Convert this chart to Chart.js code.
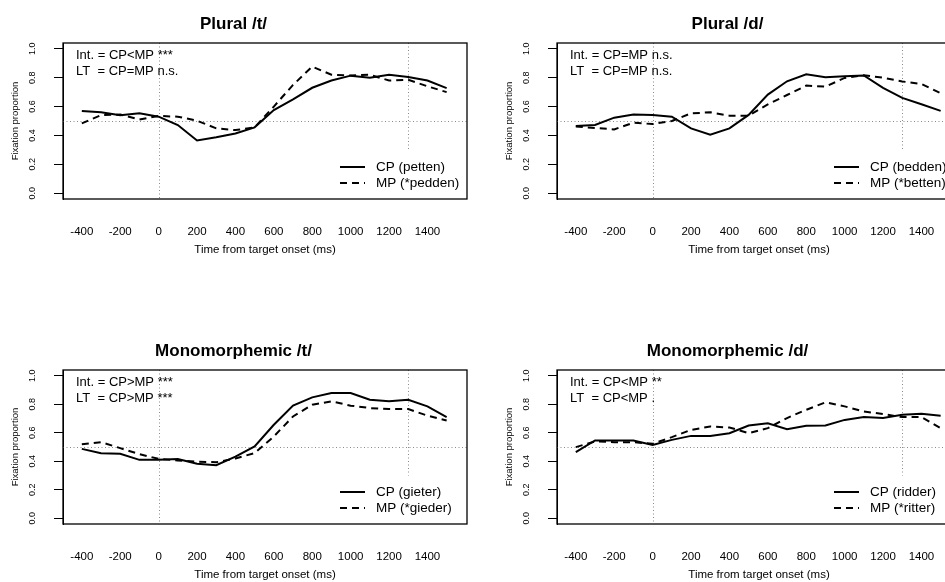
<!DOCTYPE html>
<html><head><meta charset="utf-8">
<script src="https://cdn.jsdelivr.net/npm/chart.js@4/dist/chart.umd.min.js"></script>
<style>
html,body{margin:0;padding:0;background:#fff;overflow:hidden;width:945px;height:582px;position:relative}
canvas{position:absolute}
</style></head><body>
<canvas id="p1" width="472" height="261" style="left:0px;top:0px"></canvas>
<canvas id="p2" width="472" height="261" style="left:494px;top:0px"></canvas>
<canvas id="p3" width="472" height="259" style="left:0px;top:327px"></canvas>
<canvas id="p4" width="472" height="259" style="left:494px;top:327px"></canvas>
<script>
// ---- data ----
const times = [-400,-300,-200,-100,0,100,200,300,400,500,600,700,800,900,1000,1100,1200,1300,1400,1500];
const xTickLabels = [-400,-200,0,200,400,600,800,1000,1200,1400];
const yTickLabels = [0,0.2,0.4,0.6,0.8,1.0];

const pluralT_CP = [0.57,0.56,0.54,0.553,0.53,0.472,0.365,0.387,0.414,0.456,0.576,0.65,0.73,0.78,0.814,0.80,0.82,0.805,0.78,0.728];
const pluralT_MP = [0.484,0.54,0.545,0.51,0.535,0.53,0.502,0.449,0.437,0.456,0.60,0.75,0.877,0.82,0.815,0.82,0.78,0.785,0.74,0.70];

const pluralD_CP = [0.465,0.472,0.523,0.545,0.542,0.53,0.449,0.406,0.449,0.542,0.683,0.775,0.824,0.803,0.81,0.815,0.73,0.66,0.616,0.57];
const pluralD_MP = [0.462,0.452,0.442,0.488,0.479,0.500,0.553,0.56,0.537,0.537,0.615,0.68,0.745,0.738,0.798,0.816,0.80,0.774,0.756,0.693];

const monoT_CP = [0.487,0.457,0.452,0.41,0.41,0.415,0.382,0.372,0.433,0.504,0.656,0.79,0.848,0.878,0.878,0.831,0.82,0.831,0.785,0.71];
const monoT_MP = [0.52,0.534,0.492,0.45,0.417,0.405,0.398,0.393,0.42,0.457,0.574,0.714,0.796,0.82,0.79,0.773,0.766,0.766,0.72,0.686];

const monoD_CP = [0.464,0.546,0.546,0.546,0.515,0.55,0.578,0.578,0.597,0.651,0.667,0.625,0.649,0.651,0.69,0.71,0.703,0.726,0.733,0.719];
const monoD_MP = [0.499,0.539,0.534,0.534,0.522,0.569,0.62,0.644,0.637,0.597,0.632,0.703,0.761,0.813,0.785,0.749,0.731,0.71,0.71,0.632];

const panelTitles = ['Plural /t/','Plural /d/','Monomorphemic /t/','Monomorphemic /d/'];
const cpLabels = ['CP (petten)','CP (bedden)','CP (gieter)','CP (ridder)'];
const mpLabels = ['MP (*pedden)','MP (*betten)','MP (*gieder)','MP (*ritter)'];
const statInt = ['Int. = CP<MP ***','Int. = CP=MP n.s.','Int. = CP>MP ***','Int. = CP<MP **'];
const statLT  = ['LT  = CP=MP n.s.','LT  = CP=MP n.s.','LT  = CP>MP ***','LT  = CP<MP .'];
const refX = [0, 1300];
const refY = 0.5;
const refX2Bottom = 0.3;

// ---- drawing ----
const FONT = '"Liberation Sans", Arial, Helvetica, sans-serif';
const DASH = [7,5];

const panelPlugin = {
  id: 'panelDeco',
  beforeDatasetsDraw(chart) {
    const o = chart.options.plugins.panelDeco;
    const {ctx, chartArea: a, scales: {x, y}} = chart;
    ctx.save();
    ctx.strokeStyle = '#8a8a8a';
    ctx.lineWidth = 1;
    ctx.setLineDash([1, 2.5]);
    // horizontal reference
    const py = Math.round(y.getPixelForValue(refY)) + 0.5;
    ctx.beginPath(); ctx.moveTo(a.left, py); ctx.lineTo(a.right, py); ctx.stroke();
    // vertical at 0 (full)
    let px = Math.round(x.getPixelForValue(refX[0])) + 0.5;
    ctx.beginPath(); ctx.moveTo(px, a.top); ctx.lineTo(px, a.bottom); ctx.stroke();
    // vertical at 1300 (partial)
    px = Math.round(x.getPixelForValue(refX[1])) + 0.5;
    ctx.beginPath(); ctx.moveTo(px, a.top); ctx.lineTo(px, y.getPixelForValue(refX2Bottom)); ctx.stroke();
    ctx.restore();
  },
  afterDraw(chart) {
    const o = chart.options.plugins.panelDeco;
    const {ctx, chartArea: a} = chart;
    ctx.save();
    // box
    ctx.strokeStyle = '#000';
    ctx.lineWidth = 1.3;
    ctx.strokeRect(a.left, a.top, a.right - a.left, a.bottom - a.top);
    // stats text
    ctx.fillStyle = '#000';
    ctx.font = '13px ' + FONT;
    ctx.textBaseline = 'middle';
    ctx.textAlign = 'left';
    ctx.fillText(o.line1, a.left + 13, a.top + 12);
    ctx.fillText(o.line2, a.left + 13, a.top + 28);
    // legend
    const ds = chart.data.datasets;
    ctx.font = '13.5px ' + FONT;
    const tx = a.left + 313;
    [ -32, -16 ].forEach((dy, i) => {
      const yy = a.bottom + dy;
      ctx.strokeStyle = '#000';
      ctx.lineWidth = 2;
      ctx.setLineDash(ds[i].borderDash || []);
      ctx.beginPath(); ctx.moveTo(tx - 36, yy); ctx.lineTo(tx - 11, yy); ctx.stroke();
      ctx.fillText(ds[i].label, tx, yy);
    });
    ctx.restore();
  }
};

function makePanel(id, i, cp, mp) {
  new Chart(document.getElementById(id), {
    type: 'line',
    data: {
      datasets: [
        { label: cpLabels[i], data: times.map((t, k) => ({x: t, y: cp[k]})),
          borderColor: '#000', borderWidth: 2, pointRadius: 0, tension: 0, fill: false },
        { label: mpLabels[i], data: times.map((t, k) => ({x: t, y: mp[k]})),
          borderColor: '#000', borderWidth: 2, borderDash: DASH, pointRadius: 0, tension: 0, fill: false }
      ]
    },
    options: {
      responsive: false, animation: false, devicePixelRatio: 1,
      layout: { padding: { left: 0, right: 5, top: 0, bottom: 0 } },
      plugins: {
        legend: { display: false },
        tooltip: { enabled: false },
        title: { display: true, text: panelTitles[i], color: '#000',
                 font: { family: FONT, size: 17, weight: 'bold' },
                 padding: { top: 14, bottom: 8.6 } },
        panelDeco: { line1: statInt[i], line2: statLT[i] }
      },
      scales: {
        x: {
          type: 'linear', min: -498, max: 1606,
          afterBuildTicks: s => { s.ticks = xTickLabels.map(v => ({value: v})); },
          afterFit: s => { s.height = 62; },
          grid: { display: false, drawTicks: false },
          border: { display: false },
          ticks: { color: '#000', font: { family: FONT, size: 11.5 }, padding: 26,
                   maxRotation: 0, minRotation: 0, autoSkip: false, callback: v => String(v) },
          title: { display: true, text: 'Time from target onset (ms)', color: '#000',
                   font: { family: FONT, size: 11.5 }, padding: { top: 0, bottom: 4 } }
        },
        y: {
          min: -0.04, max: 1.04,
          afterBuildTicks: s => { s.ticks = yTickLabels.map(v => ({value: v})); },
          afterFit: s => { s.width = 63; },
          grid: { drawOnChartArea: false, drawTicks: true, tickLength: 9, color: '#000', lineWidth: 1 },
          border: { display: true, color: '#000', width: 1 },
          ticks: { color: '#000', font: { family: FONT, size: 9 }, padding: 15,
                   minRotation: 90, maxRotation: 90, crossAlign: 'center', autoSkip: false,
                   callback: v => Number(v).toFixed(1) },
          title: { display: true, text: 'Fixation proportion', color: '#000',
                   font: { family: FONT, size: 9.5 }, padding: { top: 10, bottom: 0 } }
        }
      }
    },
    plugins: [panelPlugin]
  });
}

makePanel('p1', 0, pluralT_CP, pluralT_MP);
makePanel('p2', 1, pluralD_CP, pluralD_MP);
makePanel('p3', 2, monoT_CP, monoT_MP);
makePanel('p4', 3, monoD_CP, monoD_MP);
</script>
</body></html>
